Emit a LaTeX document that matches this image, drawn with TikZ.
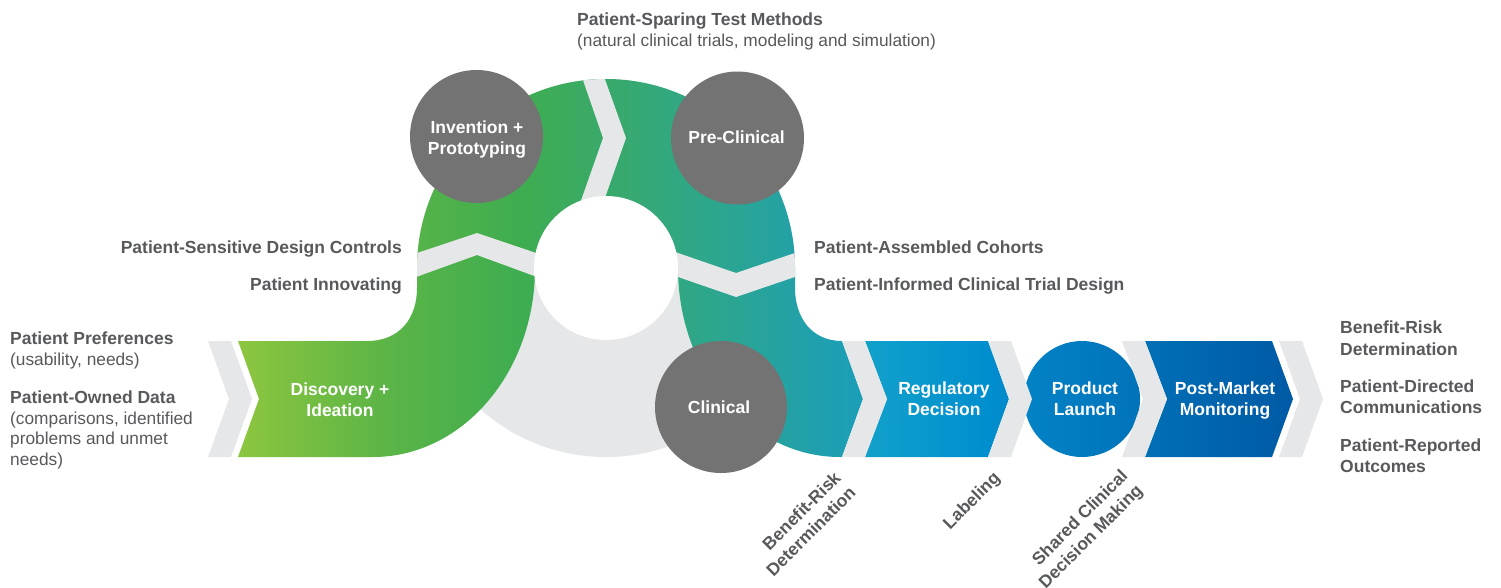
\documentclass[tikz,border=0pt]{standalone}
\usepackage{fontspec}
\setmainfont{Liberation Sans}
\definecolor{lgray}{HTML}{E6E7E8}
\definecolor{dgray}{HTML}{737373}
\definecolor{tgray}{HTML}{58595B}
\definecolor{sA}{HTML}{8DC63F}
\definecolor{sB}{HTML}{5DB546}
\definecolor{sC}{HTML}{3EAD50}
\definecolor{sD}{HTML}{38A96E}
\definecolor{sE}{HTML}{2EA789}
\definecolor{sF}{HTML}{22A1A8}
\definecolor{sG}{HTML}{1B9EB8}
\definecolor{sH}{HTML}{11A0CB}
\definecolor{sI}{HTML}{008ECF}
\definecolor{sJ}{HTML}{0382C6}
\definecolor{sK}{HTML}{0073BA}
\definecolor{sL}{HTML}{006EB5}
\definecolor{sM}{HTML}{005AA5}
\pgfdeclarehorizontalshading{flow}{100bp}{color(0bp)=(sA); color(25bp)=(sA); color(31.73bp)=(sB); color(38.36bp)=(sC); color(43.1bp)=(sD); color(46.9bp)=(sE); color(51.6bp)=(sF); color(54.5bp)=(sG); color(54.95bp)=(sH); color(60.64bp)=(sI); color(62.5bp)=(sJ); color(67.75bp)=(sK); color(68.2bp)=(sL); color(75bp)=(sM); color(100bp)=(sM)}
\tikzset{
  boldtxt/.style={font=\fontsize{17.5}{21}\selectfont\bfseries, text=tgray, inner sep=0pt},
  regtxt/.style={font=\fontsize{17.3}{21}\selectfont, text=tgray, inner sep=0pt},
  whitetxt/.style={font=\fontsize{17.5}{21}\selectfont\bfseries, text=white, align=center, inner sep=0pt},
  rottxt/.style={boldtxt, rotate=45, anchor=east, align=right},
  gapfill/.style={fill=lgray},
  phase/.style={circle, fill=dgray, inner sep=0pt}
}
\begin{document}
\begin{tikzpicture}[x=1pt,y=-1pt]
\useasboundingbox (0,0) rectangle (1501,587);
\fill[white] (0,0) rectangle (1501,587);
% gray ring
\fill[lgray] (606,268) circle[radius=189];
% colored flow
\shade[shading=flow]
  (238,341) -- (259,399) -- (238,457) -- (373,457)
  arc[start angle=90,end angle=0,x radius=162,y radius=189]
  -- (678,268)
  arc[start angle=180,end angle=90,x radius=162,y radius=189]
  -- (842,457) -- (863,399) -- (842,341)
  .. controls (812,341) and (795,318) .. (795,288)
  -- (795,268)
  arc[start angle=0,end angle=-180,radius=189]
  -- (417,288) .. controls (417,318) and (400,341) .. (367,341) -- cycle
  (865,341) -- (988,341) -- (1009,399) -- (988,457) -- (865,457) -- (887,399) -- cycle
  (1082,399) circle[radius=58]
  (1145,341) -- (1272,341) -- (1293,399) -- (1272,457) -- (1145,457) -- (1167,399) -- cycle;
% gaps in the ring
\begin{scope}
  \clip (606,268) circle[radius=189];
  \fill[gapfill] (576,60) -- (598,60) -- (626,138) -- (600,212) -- (577,212) -- (603,138) -- cycle;
  \fill[gapfill] (405,257) -- (477,233) -- (548,257) -- (548,281) -- (477,255) -- (405,281) -- cycle;
  \fill[gapfill] (665,248.5) -- (736,273) -- (808,248.5) -- (808,272.5) -- (736,297) -- (665,272.5) -- cycle;
\end{scope}
% gaps in the band
\fill[gapfill] (208,341) -- (231,341) -- (252,399) -- (231,457) -- (208,457) -- (229,399) -- cycle;
\fill[gapfill] (842,341) -- (865,341) -- (887,399) -- (865,457) -- (842,457) -- (863,399) -- cycle;
\fill[gapfill] (988,341) -- (1011,341) -- (1032,399) -- (1011,457) -- (988,457) -- (1009,399) -- cycle;
\fill[gapfill] (1122,341) -- (1145,341) -- (1167,399) -- (1145,457) -- (1122,457) -- (1143,399) -- cycle;
\fill[gapfill] (1279,341) -- (1302,341) -- (1323,399) -- (1302,457) -- (1279,457) -- (1300,399) -- cycle;
% hole
\fill[white] (606,268) circle[radius=72];
% phase circles
\node[phase, minimum size=133pt] (inv) at (476.5,136.5) {};
\node[phase, minimum size=133pt] (pre) at (737.5,138) {};
\node[phase, minimum size=132pt] (cli) at (721,407) {};
% labels inside
\node[whitetxt] (tinv) at (477,140) {Invention +\\Prototyping};
\node[whitetxt] (tpre) at (736.5,137.6) {Pre-Clinical};
\node[whitetxt] (tcli) at (719,407.6) {Clinical};
\node[whitetxt] (tdis) at (340,400) {Discovery +\\Ideation};
\node[whitetxt] (treg) at (944,399.2) {Regulatory\\Decision};
\node[whitetxt] (tpro) at (1085,399.2) {Product\\Launch};
\node[whitetxt] (tpos) at (1225,401) {Post-Market\\Monitoring};
% top text
\node[boldtxt, anchor=base west] (top1) at (577,25) {Patient-Sparing Test Methods};
\node[regtxt, anchor=base west] (top2) at (577,46) {(natural clinical trials, modeling and simulation)};
% side texts
\node[boldtxt, anchor=base east] (psd) at (402,253) {Patient-Sensitive Design Controls};
\node[boldtxt, anchor=base east] (pin) at (402,290) {Patient Innovating};
\node[boldtxt, anchor=base west] (pac) at (814,253) {Patient-Assembled Cohorts};
\node[boldtxt, anchor=base west] (pic) at (814,290) {Patient-Informed Clinical Trial Design};
% left texts
\node[boldtxt, anchor=base west] (l1) at (10,344) {Patient Preferences};
\node[regtxt, anchor=base west] (l2) at (10,365) {(usability, needs)};
\node[boldtxt, anchor=base west] (l3) at (10,403) {Patient-Owned Data};
\node[regtxt, anchor=base west] (l4) at (10,424) {(comparisons, identified};
\node[regtxt, anchor=base west] (l5) at (10,444.5) {problems and unmet};
\node[regtxt, anchor=base west] (l6) at (10,465) {needs)};
% right texts
\node[boldtxt, anchor=base west] (r1) at (1340,333) {Benefit-Risk};
\node[boldtxt, anchor=base west] (r2) at (1340,355) {Determination};
\node[boldtxt, anchor=base west] (r3) at (1340,392) {Patient-Directed};
\node[boldtxt, anchor=base west] (r4) at (1340,413) {Communications};
\node[boldtxt, anchor=base west] (r5) at (1340,451) {Patient-Reported};
\node[boldtxt, anchor=base west] (r6) at (1340,472) {Outcomes};
% rotated texts
\node[rottxt] (b1) at (845,482) {Benefit-Risk\\Determination};
\node[rottxt] (b2) at (998,476) {Labeling};
\node[rottxt] (b3) at (1133,481) {Shared Clinical\\Decision Making};
\end{tikzpicture}
\end{document}
